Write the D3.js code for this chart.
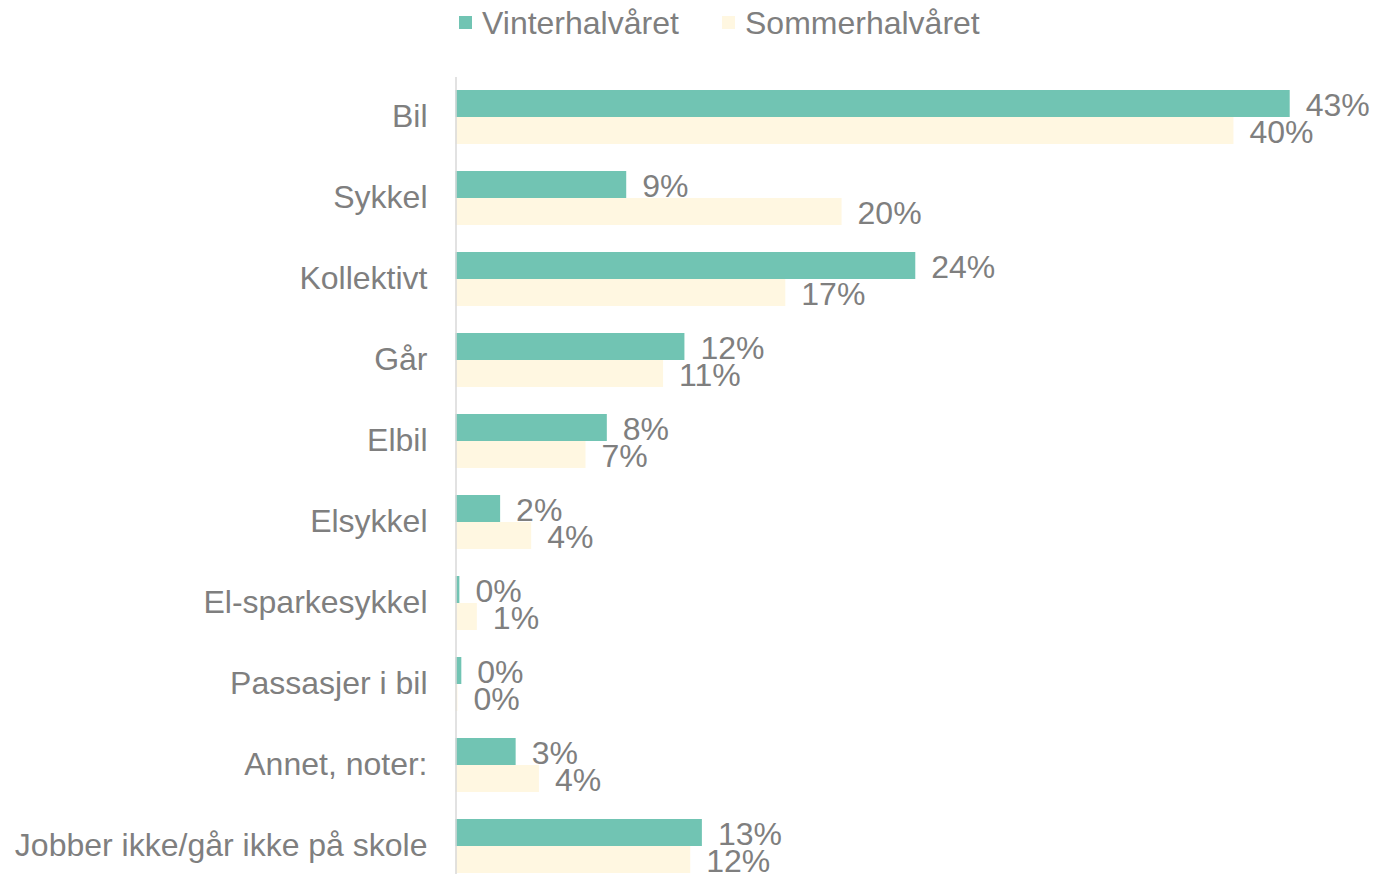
<!DOCTYPE html>
<html>
<head>
<meta charset="utf-8">
<script src="https://cdn.jsdelivr.net/npm/d3@7"></script>
<style>
  html, body { margin: 0; padding: 0; background: #fff; overflow: hidden; }
  svg { display: block; font-family: "Liberation Sans", Arial, sans-serif; }
</style>
</head>
<body>
<svg id="chart" width="1386" height="874"></svg>
<script>
// Transport mode by season (share of respondents)
const categories = ["Bil", "Sykkel", "Kollektivt", "Går", "Elbil", "Elsykkel",
  "El-sparkesykkel", "Passasjer i bil", "Annet, noter:", "Jobber ikke/går ikke på skole"];
const seriesNames = ["Vinterhalvåret", "Sommerhalvåret"];
const vinter = [0.430, 0.088, 0.237, 0.118, 0.078, 0.023, 0.002, 0.003, 0.031, 0.127];
const sommer = [0.401, 0.199, 0.170, 0.107, 0.067, 0.039, 0.011, 0.001, 0.043, 0.121];
const colors = ["#71c4b3", "#fff7e1"];

const svg = d3.select("#chart");
const textColor = "#7f7f7f";
const fontSize = 32;

const x0 = 455.5;
const x = d3.scaleLinear().domain([0, 0.5]).range([x0, x0 + 970]);
const y = d3.scaleBand().domain(categories).range([76.5, 886.5]).paddingInner(0).paddingOuter(0);
const inner = d3.scaleBand().domain(seriesNames).range([0, y.bandwidth()]).paddingOuter(0.5);

const rows = categories.map((c, i) => ({ cat: c, vals: [vinter[i], sommer[i]] }));
const fmt = d3.format(".0%");

const groups = svg.selectAll("g.row").data(rows).join("g")
  .attr("class", "row")
  .attr("transform", d => `translate(0,${y(d.cat)})`);

groups.selectAll("rect").data(d => d.vals.map((v, k) => ({ v, k })))
  .join("rect")
  .attr("x", x(0))
  .attr("y", d => inner(seriesNames[d.k]))
  .attr("width", d => x(d.v) - x(0))
  .attr("height", inner.bandwidth())
  .attr("fill", d => colors[d.k]);

groups.selectAll("text.val").data(d => d.vals.map((v, k) => ({ v, k })))
  .join("text")
  .attr("class", "val")
  .attr("x", d => x(d.v) + 16)
  .attr("y", d => inner(seriesNames[d.k]) + inner.bandwidth() / 2 + 1)
  .attr("dominant-baseline", "central")
  .attr("font-size", fontSize)
  .attr("fill", textColor)
  .text(d => fmt(d.v));

// Category axis
const yAxis = svg.append("g")
  .attr("transform", `translate(${x0},0)`)
  .call(d3.axisLeft(y).tickSize(0).tickPadding(28));
yAxis.select(".domain").attr("stroke", "#d9d9d9").attr("stroke-width", 1.5);
yAxis.selectAll("text")
  .attr("font-size", fontSize)
  .attr("font-family", "'Liberation Sans', Arial, sans-serif")
  .attr("fill", textColor);

// Legend
const legendItems = [
  { name: seriesNames[0], color: colors[0], x: 459 },
  { name: seriesNames[1], color: colors[1], x: 722 }
];
const legend = svg.append("g");
legendItems.forEach(it => {
  legend.append("rect")
    .attr("x", it.x).attr("y", 16).attr("width", 13).attr("height", 13)
    .attr("fill", it.color);
  legend.append("text")
    .attr("x", it.x + 23).attr("y", 23)
    .attr("dominant-baseline", "central")
    .attr("font-size", fontSize)
    .attr("fill", textColor)
    .text(it.name);
});
</script>
</body>
</html>
